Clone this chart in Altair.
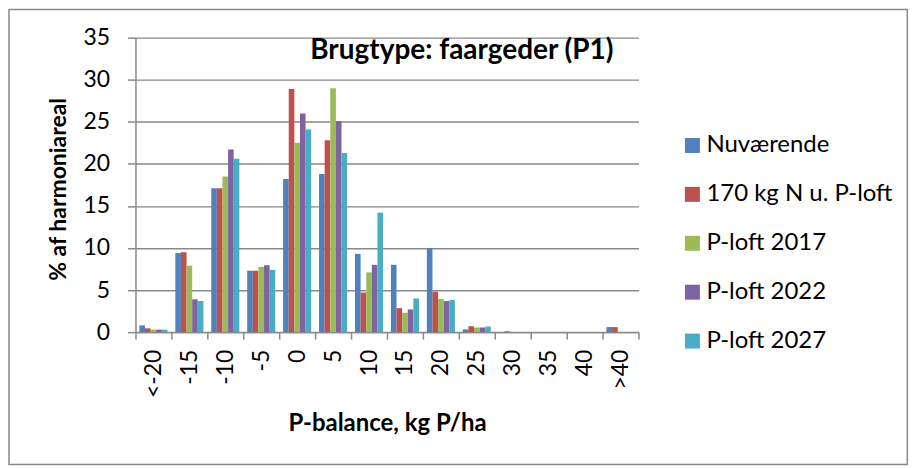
import altair as alt
import pandas as pd

categories = ["<-20", "-15", "-10", "-5", "0", "5", "10", "15", "20", "25", "30", "35", "40", ">40"]
series = ["Nuværende", "170 kg N u. P-loft", "P-loft 2017", "P-loft 2022", "P-loft 2027"]
nuvaerende = [0.8, 9.4, 17.1, 7.3, 18.2, 18.8, 9.3, 8.0, 10.0, 0.32, 0.0, 0.0, 0.0, 0.6]
n170_uden_ploft = [0.45, 9.5, 17.1, 7.3, 28.9, 22.8, 4.7, 2.85, 4.8, 0.7, 0.1, 0.0, 0.0, 0.6]
ploft_2017 = [0.3, 7.9, 18.5, 7.75, 22.5, 29.0, 7.1, 2.3, 3.95, 0.55, 0.0, 0.0, 0.0, 0.0]
ploft_2022 = [0.3, 3.9, 21.7, 7.95, 26.0, 25.1, 8.0, 2.7, 3.7, 0.55, 0.0, 0.0, 0.0, 0.0]
ploft_2027 = [0.3, 3.7, 20.6, 7.4, 24.1, 21.3, 14.2, 4.0, 3.8, 0.67, 0.0, 0.0, 0.0, 0.0]
colors = ["#4F81BD", "#C0504D", "#9BBB59", "#8064A2", "#4BACC6"]
y_ticks = [0, 5, 10, 15, 20, 25, 30, 35]
chart_title = "Brugtype: faargeder (P1)"
x_title = "P-balance, kg P/ha"
y_title = "% af harmoniareal"

all_values = [nuvaerende, n170_uden_ploft, ploft_2017, ploft_2022, ploft_2027]
rows = []
for s, vals in zip(series, all_values):
    for c, v in zip(categories, vals):
        rows.append({"cat": c, "series": s, "value": v})
df = pd.DataFrame(rows)

FONT = "Lato"
GRAY = "#898989"
W, H = 504, 295

bars = alt.Chart(df).mark_bar(clip=False).encode(
    x=alt.X(
        "cat:N",
        sort=categories,
        scale=alt.Scale(domain=categories, paddingInner=0, paddingOuter=0),
        axis=alt.Axis(
            title=x_title,
            labelAngle=-90,
            tickBand="extent",
            tickSize=7,
            tickWidth=1.5,
            tickColor=GRAY,
            domainColor=GRAY,
            domainWidth=1.5,
            labelPadding=10,
            labelFont=FONT,
            labelFontSize=23,
            labelColor="black",
            grid=False,
            titleFont=FONT,
            titleFontSize=24,
            titleFontWeight="bold",
            titleColor="black",
            titleX=W / 2,
            titleY=99,
            titleAlign="center",
            titleBaseline="alphabetic",
        ),
    ),
    xOffset=alt.XOffset(
        "series:N",
        sort=series,
        scale=alt.Scale(domain=series, paddingInner=0, paddingOuter=0.7),
    ),
    y=alt.Y(
        "value:Q",
        scale=alt.Scale(domain=[0, 35], nice=False),
        axis=alt.Axis(
            title=y_title,
            values=y_ticks,
            tickSize=8,
            tickWidth=1.5,
            tickColor=GRAY,
            domainColor=GRAY,
            domainWidth=1.5,
            grid=True,
            gridColor=GRAY,
            gridWidth=1.4,
            labelPadding=18,
            labelFont=FONT,
            labelFontSize=23,
            labelColor="black",
            titleFont=FONT,
            titleFontSize=23,
            titleFontWeight="bold",
            titleColor="black",
            titleX=-76.7,
            titleY=H / 2 + 4,
            titleAngle=-90,
            titleAlign="center",
            titleBaseline="middle",
        ),
    ),
    color=alt.Color(
        "series:N",
        sort=series,
        scale=alt.Scale(domain=series, range=colors),
        legend=alt.Legend(
            title=None,
            orient="none",
            legendX=546,
            legendY=96,
            symbolType="square",
            symbolSize=225,
            symbolStrokeWidth=0,
            labelFont=FONT,
            labelFontSize=24,
            labelColor="black",
            labelOffset=2,
            labelLimit=0,
            rowPadding=25,
        ),
    ),
)

title_layer = alt.Chart(pd.DataFrame({"t": [chart_title]})).mark_text(
    font=FONT, fontSize=28, fontWeight="bold", color="black",
    align="center", baseline="alphabetic",
).encode(text="t:N", x=alt.value(327), y=alt.value(21))

border = alt.Chart(pd.DataFrame({"a": [0]})).mark_rect(
    fillOpacity=0, stroke=GRAY, strokeWidth=1.5, clip=False,
).encode(
    x=alt.value(-126.7), x2=alt.value(773.3),
    y=alt.value(-28.3), y2=alt.value(427.7),
)

chart = alt.layer(border, bars, title_layer).properties(
    width=W,
    height=H,
    autosize=alt.AutoSizeParams(type="none"),
    padding={"left": 127.7, "top": 29.3, "right": 271, "bottom": 136},
    background="white",
).configure_view(stroke=None)

chart.save("out.html", embed_options={"renderer": "svg", "actions": False})
